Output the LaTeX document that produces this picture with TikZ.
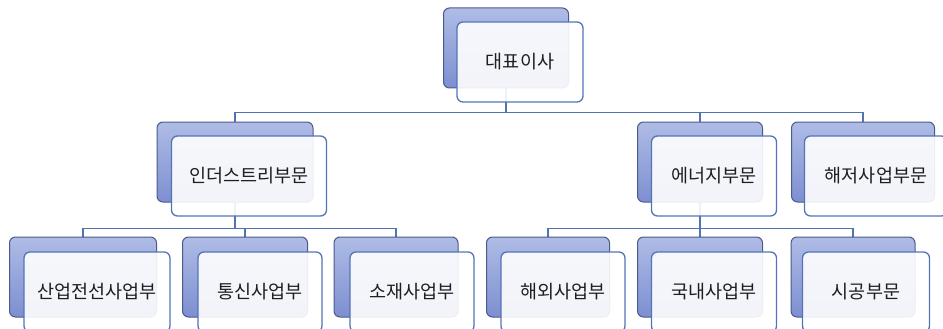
\documentclass[tikz,border=0pt]{standalone}
\usepackage{fontspec}
\setmainfont{Noto Sans CJK KR}
\usepackage{tikz}
\usetikzlibrary{shapes}
\usetikzlibrary{positioning}
\usetikzlibrary{calc}
\definecolor{fondhaut}{HTML}{AFBCE6}
\definecolor{fondbas}{HTML}{7D8FD1}
\definecolor{bordfond}{HTML}{4C5A88}
\definecolor{bordcarte}{HTML}{5574B8}
\definecolor{trait}{HTML}{5272B2}
\definecolor{texte}{HTML}{1E1E1E}
\pgfdeclarelayer{bg}
\pgfsetlayers{bg,main}
\tikzstyle{cadre}=[
        rectangle,
        draw=bordfond,
        line width=1pt,
        rounded corners=6pt,
        top color=fondhaut,
        bottom color=fondbas,
        minimum height=80pt,
        inner sep=0pt
]
\tikzstyle{carte}=[rectangle,draw=bordcarte,line width=1.3pt,rounded corners=6pt,
fill=white,fill opacity=0.9,text opacity=1,text=texte,minimum height=80pt,inner sep=0pt,
font=\fontsize{18.5}{21}\selectfont]
\tikzstyle{liaison}=[draw=trait,line width=1.3pt]

\begin{document}
\begin{tikzpicture}[x=1pt,y=-1pt]
\useasboundingbox (0,0) rectangle (943,329);
\node[cadre,minimum width=125pt] (ceo) at (506,48) {};
\node[carte,minimum width=126pt] (ceof) at (520,62) {대표이사};
\node[cadre,minimum width=156pt] (ind) at (235,162) {};
\node[carte,minimum width=155pt] (indf) at (249,176) {인더스트리부문};
\node[cadre,minimum width=125pt] (ene) at (700,162) {};
\node[carte,minimum width=125pt] (enef) at (714,176) {에너지부문};
\node[cadre,minimum width=143pt] (sea) at (863,162) {};
\node[carte,minimum width=143pt] (seaf) at (876,176) {해저사업부문};
\node[cadre,minimum width=147pt] (cab) at (83,277) {};
\node[carte,minimum width=146pt] (cabf) at (97,292) {산업전선사업부};
\node[cadre,minimum width=125pt] (tel) at (245,277) {};
\node[carte,minimum width=124pt] (telf) at (260,292) {통신사업부};
\node[cadre,minimum width=124pt] (mat) at (396,277) {};
\node[carte,minimum width=124pt] (matf) at (412,292) {소재사업부};
\node[cadre,minimum width=123pt] (ovs) at (548,277) {};
\node[carte,minimum width=124pt] (ovsf) at (563,292) {해외사업부};
\node[cadre,minimum width=125pt] (dom) at (700,277) {};
\node[carte,minimum width=125pt] (domf) at (714,292) {국내사업부};
\node[cadre,minimum width=124pt] (con) at (853,277) {};
\node[carte,minimum width=127pt] (conf) at (866,292) {시공부문};
%liaisons
\begin{pgfonlayer}{bg}
\draw[liaison] (ceo.south) -- ++(0,24) coordinate (bus1);
\draw[liaison] (bus1) -| (ind.north);
\draw[liaison] (bus1) -| (ene.north);
\draw[liaison] (bus1) -| (sea.north);
\draw[liaison] (ind.south) -- ++(0,26) coordinate (bus2);
\draw[liaison] (bus2) -| (cab.north);
\draw[liaison] (bus2) -| (tel.north);
\draw[liaison] (bus2) -| (mat.north);
\draw[liaison] (ene.south) -- ++(0,26) coordinate (bus3);
\draw[liaison] (bus3) -| (ovs.north);
\draw[liaison] (bus3) -| (dom.north);
\draw[liaison] (bus3) -| (con.north);
\end{pgfonlayer}
\end{tikzpicture}
\end{document}
